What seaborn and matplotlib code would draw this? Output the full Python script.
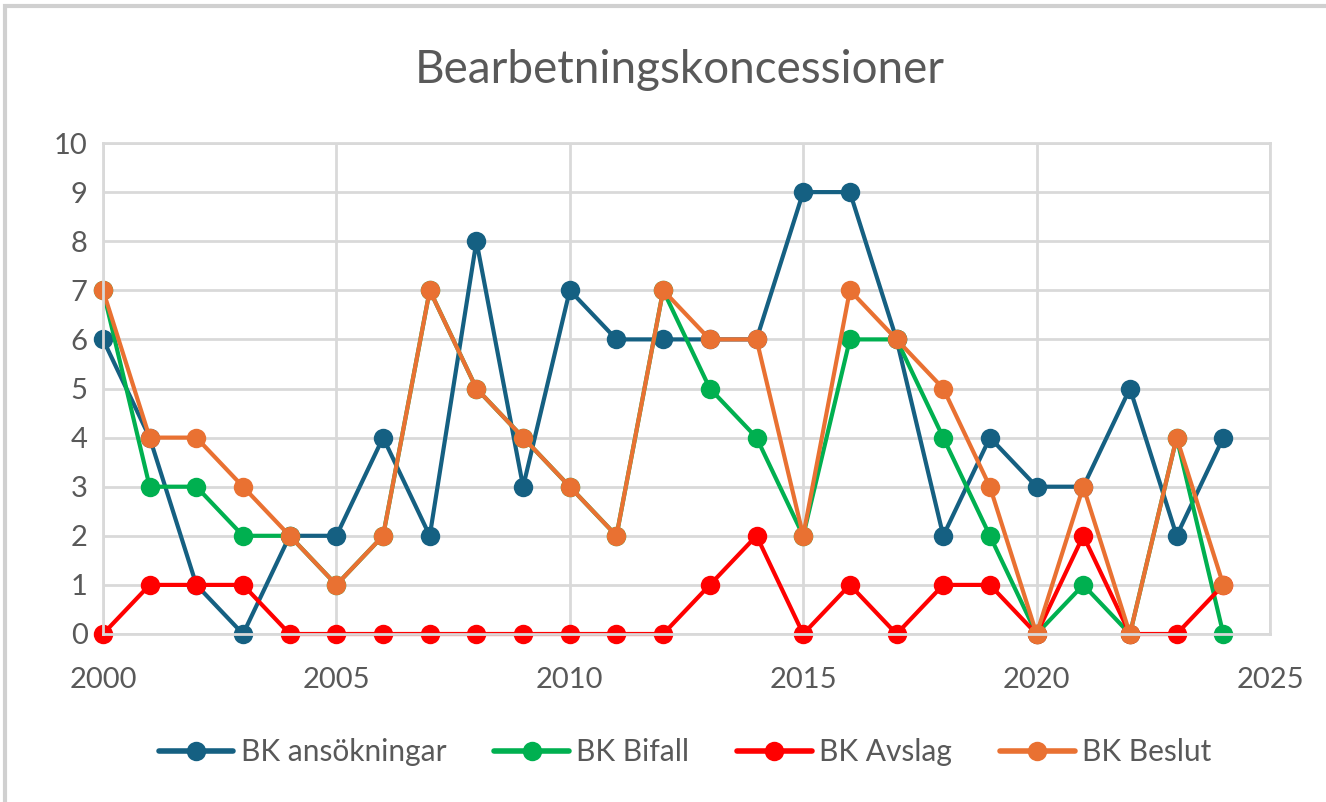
import matplotlib
matplotlib.use("Agg")
import matplotlib.pyplot as plt
import pandas as pd
import seaborn as sns
from matplotlib.patches import Rectangle

years = list(range(2000, 2025))
ansokningar = [6, 4, 1, 0, 2, 2, 4, 2, 8, 3, 7, 6, 6, 6, 6, 9, 9, 6, 2, 4, 3, 3, 5, 2, 4]
bifall = [7, 3, 3, 2, 2, 1, 2, 7, 5, 4, 3, 2, 7, 5, 4, 2, 6, 6, 4, 2, 0, 1, 0, 4, 0]
avslag = [0, 1, 1, 1, 0, 0, 0, 0, 0, 0, 0, 0, 0, 1, 2, 0, 1, 0, 1, 1, 0, 2, 0, 0, 1]
beslut = [7, 4, 4, 3, 2, 1, 2, 7, 5, 4, 3, 2, 7, 6, 6, 2, 7, 6, 5, 3, 0, 3, 0, 4, 1]

series_names = ["BK ansökningar", "BK Bifall", "BK Avslag", "BK Beslut"]
colors = ["#156082", "#00B050", "#FF0000", "#E97132"]
title = "Bearbetningskoncessioner"

df = pd.DataFrame({
    "År": years * 4,
    "Antal": ansokningar + bifall + avslag + beslut,
    "Serie": sum([[n] * len(years) for n in series_names], []),
})

sns.set_theme(style="white")
plt.rcParams["font.family"] = ["Lato", "DejaVu Sans"]
text_color = "#595959"
grid_color = "#D9D9D9"

fig = plt.figure(figsize=(13.26, 8.02), dpi=100)
ax = fig.add_axes([103 / 1326, 1 - 634 / 802, (1270 - 103) / 1326, (634 - 143) / 802])

sns.lineplot(
    data=df, x="År", y="Antal", hue="Serie", hue_order=series_names,
    palette=colors, marker="o", markersize=14, markeredgewidth=0,
    linewidth=3, ax=ax, legend=True,
)
for line in ax.get_lines():
    line.set_clip_on(False)

ax.set_xlim(2000, 2025)
ax.set_ylim(0, 10)
ax.set_xticks(range(2000, 2026, 5))
ax.set_yticks(range(0, 11))
ax.grid(True, color=grid_color, linewidth=2)
ax.set_axisbelow(True)
for s in ax.spines.values():
    s.set_color(grid_color)
    s.set_linewidth(2)
ax.tick_params(axis="both", length=0, labelsize=21, colors=text_color)
ax.tick_params(axis="x", pad=24)
ax.tick_params(axis="y", pad=11)
ax.set_xlabel("")
ax.set_ylabel("")
for lab in ax.get_xticklabels() + ax.get_yticklabels():
    lab.set_color(text_color)

fig.text(0.513, 0.913, title, ha="center", va="center", fontsize=33, color=text_color)

handles, labels = ax.get_legend_handles_labels()
ax.get_legend().remove()
for h in handles:
    h.set_linewidth(4)
    h.set_markersize(14)
leg = fig.legend(
    handles, labels, loc="center", bbox_to_anchor=(0.5166, 0.062), ncol=4,
    frameon=False, fontsize=21.5, handlelength=2.5, columnspacing=1.6,
    handletextpad=0.25,
)
for t in leg.get_texts():
    t.set_color(text_color)

# chart frame (top and left edges visible in the reference)
fig.patches.append(Rectangle((5 / 1326, -0.1), 1.2, 1 - 6 / 802 + 0.1,
                             transform=fig.transFigure, fill=False,
                             edgecolor="#D0D0D0", linewidth=3))

fig.savefig("out.png", dpi=100)
